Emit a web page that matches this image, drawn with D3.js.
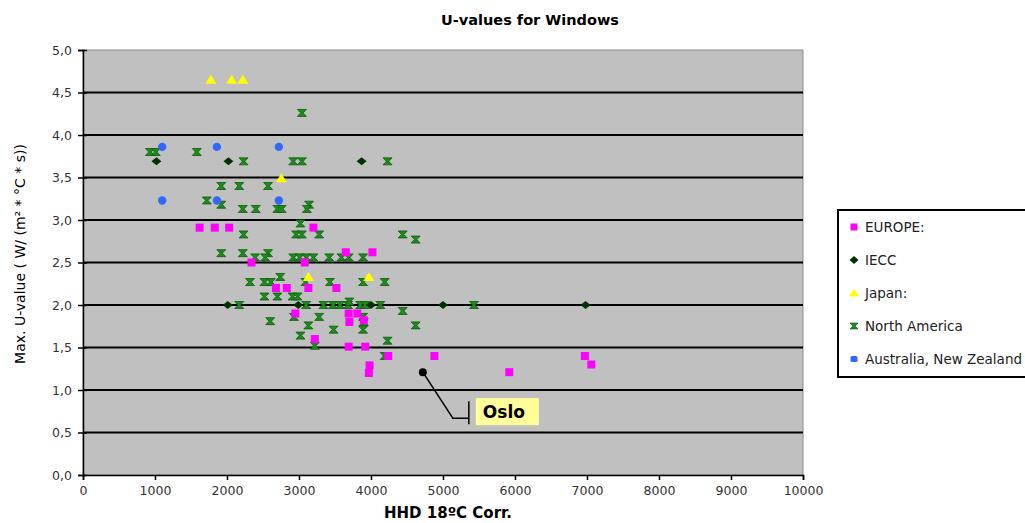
<!DOCTYPE html>
<html>
<head>
<meta charset="utf-8">
<script src="https://cdn.jsdelivr.net/npm/d3@7"></script>
<style>
  body { margin: 0; background: #fff; }
  svg { font-family: "DejaVu Sans", Arial, sans-serif; }
</style>
</head>
<body>
<div id="chart"></div>
<script>
// values: [HDD, max U-value]
var europe = [
    [1620, 2.91], [1830, 2.91], [2030, 2.91], [3200, 2.91],
    [3650, 2.62], [4020, 2.62], [2340, 2.50], [3080, 2.50],
    [2680, 2.20], [2830, 2.20], [3130, 2.20], [3520, 2.20],
    [2950, 1.90], [3690, 1.90], [3810, 1.90], [3700, 1.80], [3900, 1.82],
    [3220, 1.60], [3690, 1.51], [3920, 1.51],
    [4240, 1.40], [4880, 1.40], [6970, 1.40], [7060, 1.30],
    [3980, 1.29], [3970, 1.20], [5920, 1.21]
];
var iecc = [
    [1020, 3.69], [2020, 3.69], [3870, 3.69],
    [2010, 2.0], [2990, 2.0], [4000, 2.0], [5000, 2.0], [6980, 2.0]
];
var japan = [
    [1775, 4.65], [2065, 4.65], [2220, 4.65],
    [2755, 3.49], [3130, 2.33], [3970, 2.33]
];
var northAmerica = [
    [3040, 4.26],
    [930, 3.80], [1010, 3.80], [1580, 3.80],
    [2230, 3.69], [2920, 3.69], [3040, 3.69], [4230, 3.69],
    [1920, 3.40], [2170, 3.40], [2570, 3.40],
    [1720, 3.23], [1920, 3.18], [3140, 3.18], [3110, 3.13],
    [2220, 3.13], [2400, 3.13], [2700, 3.13], [2760, 3.13],
    [3020, 2.96],
    [2230, 2.83], [2960, 2.83], [3040, 2.83], [3280, 2.83], [4440, 2.83], [4620, 2.77],
    [1920, 2.61], [2220, 2.61], [2570, 2.61],
    [2390, 2.56], [2530, 2.56], [2920, 2.56], [3010, 2.56], [3100, 2.56], [3200, 2.56],
    [3420, 2.56], [3590, 2.56], [3690, 2.56], [3890, 2.56],
    [2740, 2.33],
    [2320, 2.27], [2520, 2.27], [2610, 2.27], [3090, 2.27], [3430, 2.27], [3890, 2.27], [4190, 2.27],
    [2520, 2.10], [2700, 2.10], [2910, 2.10], [2980, 2.10],
    [2170, 2.0], [3100, 2.0], [3340, 2.0], [3470, 2.0], [3570, 2.0], [3680, 2.0],
    [3700, 2.04], [3850, 2.0], [3920, 2.0], [4130, 2.0], [5430, 2.0],
    [4440, 1.93], [2600, 1.81], [2930, 1.86], [3280, 1.86], [3890, 1.86], [3900, 1.80],
    [3130, 1.76], [3480, 1.71], [3890, 1.71], [4620, 1.76],
    [3020, 1.64], [3220, 1.52], [4230, 1.58], [4190, 1.40]
];
var australiaNZ = [
    [1100, 3.86], [1860, 3.86], [2720, 3.86],
    [1100, 3.23], [1860, 3.23], [2720, 3.23]
];
var oslo = [4720, 1.21];

var xTicks = [0, 1000, 2000, 3000, 4000, 5000, 6000, 7000, 8000, 9000, 10000];
var yTicks = [0, 0.5, 1, 1.5, 2, 2.5, 3, 3.5, 4, 4.5, 5];

var seriesNames = ["EUROPE:", "IECC", "Japan:", "North America", "Australia, New Zealand"];

var width = 1025, height = 523;
var plot = {left: 83, right: 803, top: 50, bottom: 475};

var svg = d3.select("#chart").append("svg")
    .attr("width", width)
    .attr("height", height);

var x = d3.scaleLinear().domain([0, 10000]).range([plot.left, plot.right]);
var y = d3.scaleLinear().domain([0, 5]).range([plot.bottom, plot.top]);

// plot area
svg.append("rect")
    .attr("x", plot.left).attr("y", plot.top)
    .attr("width", plot.right - plot.left)
    .attr("height", plot.bottom - plot.top)
    .attr("fill", "#c0c0c0")
    .attr("stroke", "#8c8c8c")
    .attr("stroke-width", 1);

// horizontal grid lines
svg.append("g").selectAll("line")
    .data(yTicks.filter(function(d) { return d > 0 && d < 5; }))
    .enter().append("line")
    .attr("x1", plot.left).attr("x2", plot.right)
    .attr("y1", function(d) { return y(d); })
    .attr("y2", function(d) { return y(d); })
    .attr("stroke", "#000")
    .attr("stroke-width", 2);

// axes
var xAxis = svg.append("g")
    .attr("transform", "translate(0," + plot.bottom + ")")
    .call(d3.axisBottom(x).tickValues(xTicks).tickSize(5).tickPadding(6)
        .tickFormat(function(d) { return d; }));
var yAxis = svg.append("g")
    .attr("transform", "translate(" + plot.left + ",0)")
    .call(d3.axisLeft(y).tickValues(yTicks).tickSize(5).tickPadding(6)
        .tickFormat(function(d) { return d3.format(".1f")(d).replace(".", ","); }));

[xAxis, yAxis].forEach(function(ax) {
    ax.select(".domain").attr("stroke", "#000").attr("stroke-width", 1.5);
    ax.selectAll(".tick line").attr("stroke", "#000").attr("stroke-width", 1.5);
    ax.selectAll("text")
        .attr("fill", "#333")
        .style("font-size", "12.5px")
        .style("font-family", "'DejaVu Sans', Arial, sans-serif");
});
// y ticks cross the axis
yAxis.selectAll(".tick line").attr("x1", 4);

// marker shapes
var hourglass = "M-4.5,-3.5H4.5L1.2,0L4.5,3.5H-4.5L-1.2,0Z";

var marks = svg.append("g");

function drawSeries(data, draw) {
    draw(marks.append("g").selectAll("path").data(data).enter());
}

drawSeries(northAmerica, function(sel) {
    sel.append("path")
        .attr("d", hourglass)
        .attr("transform", function(d) { return "translate(" + x(d[0]) + "," + y(d[1]) + ")"; })
        .attr("fill", "#1e8a1e")
        .attr("stroke", "#0b5e0b")
        .attr("stroke-width", 0.8);
});
drawSeries(europe, function(sel) {
    sel.append("rect")
        .attr("x", function(d) { return x(d[0]) - 4; })
        .attr("y", function(d) { return y(d[1]) - 4; })
        .attr("width", 8).attr("height", 8)
        .attr("fill", "#ff00ff");
});
drawSeries(iecc, function(sel) {
    sel.append("path")
        .attr("d", "M-5,0L0,-4L5,0L0,4Z")
        .attr("transform", function(d) { return "translate(" + x(d[0]) + "," + y(d[1]) + ")"; })
        .attr("fill", "#003300");
});
drawSeries(japan, function(sel) {
    sel.append("path")
        .attr("d", "M0,-5L5.5,4L-5.5,4Z")
        .attr("transform", function(d) { return "translate(" + x(d[0]) + "," + y(d[1]) + ")"; })
        .attr("fill", "#ffff00");
});
drawSeries(australiaNZ, function(sel) {
    sel.append("circle")
        .attr("cx", function(d) { return x(d[0]); })
        .attr("cy", function(d) { return y(d[1]); })
        .attr("r", 4.2)
        .attr("fill", "#3366ff");
});

// Oslo annotation
var ox = x(oslo[0]), oy = y(oslo[1]);
svg.append("circle").attr("cx", ox).attr("cy", oy).attr("r", 4).attr("fill", "#000");
svg.append("path")
    .attr("d", "M" + ox + "," + oy + "L" + (ox + 30) + "," + (oy + 46) + "H" + (ox + 46))
    .attr("fill", "none").attr("stroke", "#000").attr("stroke-width", 1.5);
svg.append("line")
    .attr("x1", ox + 46).attr("x2", ox + 46)
    .attr("y1", oy + 29).attr("y2", oy + 52)
    .attr("stroke", "#000").attr("stroke-width", 1.5);
svg.append("rect")
    .attr("x", ox + 53).attr("y", oy + 26)
    .attr("width", 63).attr("height", 27)
    .attr("fill", "#ffff99");
svg.append("text")
    .attr("x", ox + 60).attr("y", oy + 46)
    .style("font-size", "17px").style("font-weight", "bold")
    .text("Oslo");

// title and axis titles
svg.append("text")
    .attr("x", 530).attr("y", 25)
    .attr("text-anchor", "middle")
    .style("font-size", "14.5px").style("font-weight", "bold")
    .text("U-values for Windows");
svg.append("text")
    .attr("x", 448).attr("y", 518)
    .attr("text-anchor", "middle")
    .style("font-size", "15px").style("font-weight", "bold")
    .text("HHD 18ºC Corr.");
svg.append("text")
    .attr("transform", "translate(25,254) rotate(-90)")
    .attr("text-anchor", "middle")
    .style("font-size", "14px")
    .text("Max. U-value ( W/ (m² * °C * s))");

// legend
var legend = svg.append("g");
legend.append("rect")
    .attr("x", 838).attr("y", 210)
    .attr("width", 200).attr("height", 167)
    .attr("fill", "#fff")
    .attr("stroke", "#000").attr("stroke-width", 2);

var legendY = d3.scalePoint().domain(seriesNames).range([227, 359]);
var legendMarks = [
    function(g) { g.append("rect").attr("x", -3.5).attr("y", -3.5).attr("width", 7).attr("height", 7).attr("fill", "#ff00ff"); },
    function(g) { g.append("path").attr("d", "M-4.5,0L0,-4L4.5,0L0,4Z").attr("fill", "#003300"); },
    function(g) { g.append("path").attr("d", "M0,-4.5L5,3.5L-5,3.5Z").attr("fill", "#ffff00"); },
    function(g) { g.append("path").attr("d", "M-4,-3H4L1,0L4,3H-4L-1,0Z").attr("fill", "#1e8a1e").attr("stroke", "#0b5e0b").attr("stroke-width", 0.6); },
    function(g) { g.append("rect").attr("x", -3.5).attr("y", -3).attr("width", 7).attr("height", 6).attr("rx", 1.5).attr("fill", "#3366ff"); }
];
seriesNames.forEach(function(name, i) {
    var row = legend.append("g").attr("transform", "translate(0," + legendY(name) + ")");
    legendMarks[i](row.append("g").attr("transform", "translate(854,0)"));
    row.append("text")
        .attr("x", 865).attr("y", 5)
        .attr("fill", "#222")
        .style("font-size", "13.5px")
        .text(name);
});
</script>
</body>
</html>
